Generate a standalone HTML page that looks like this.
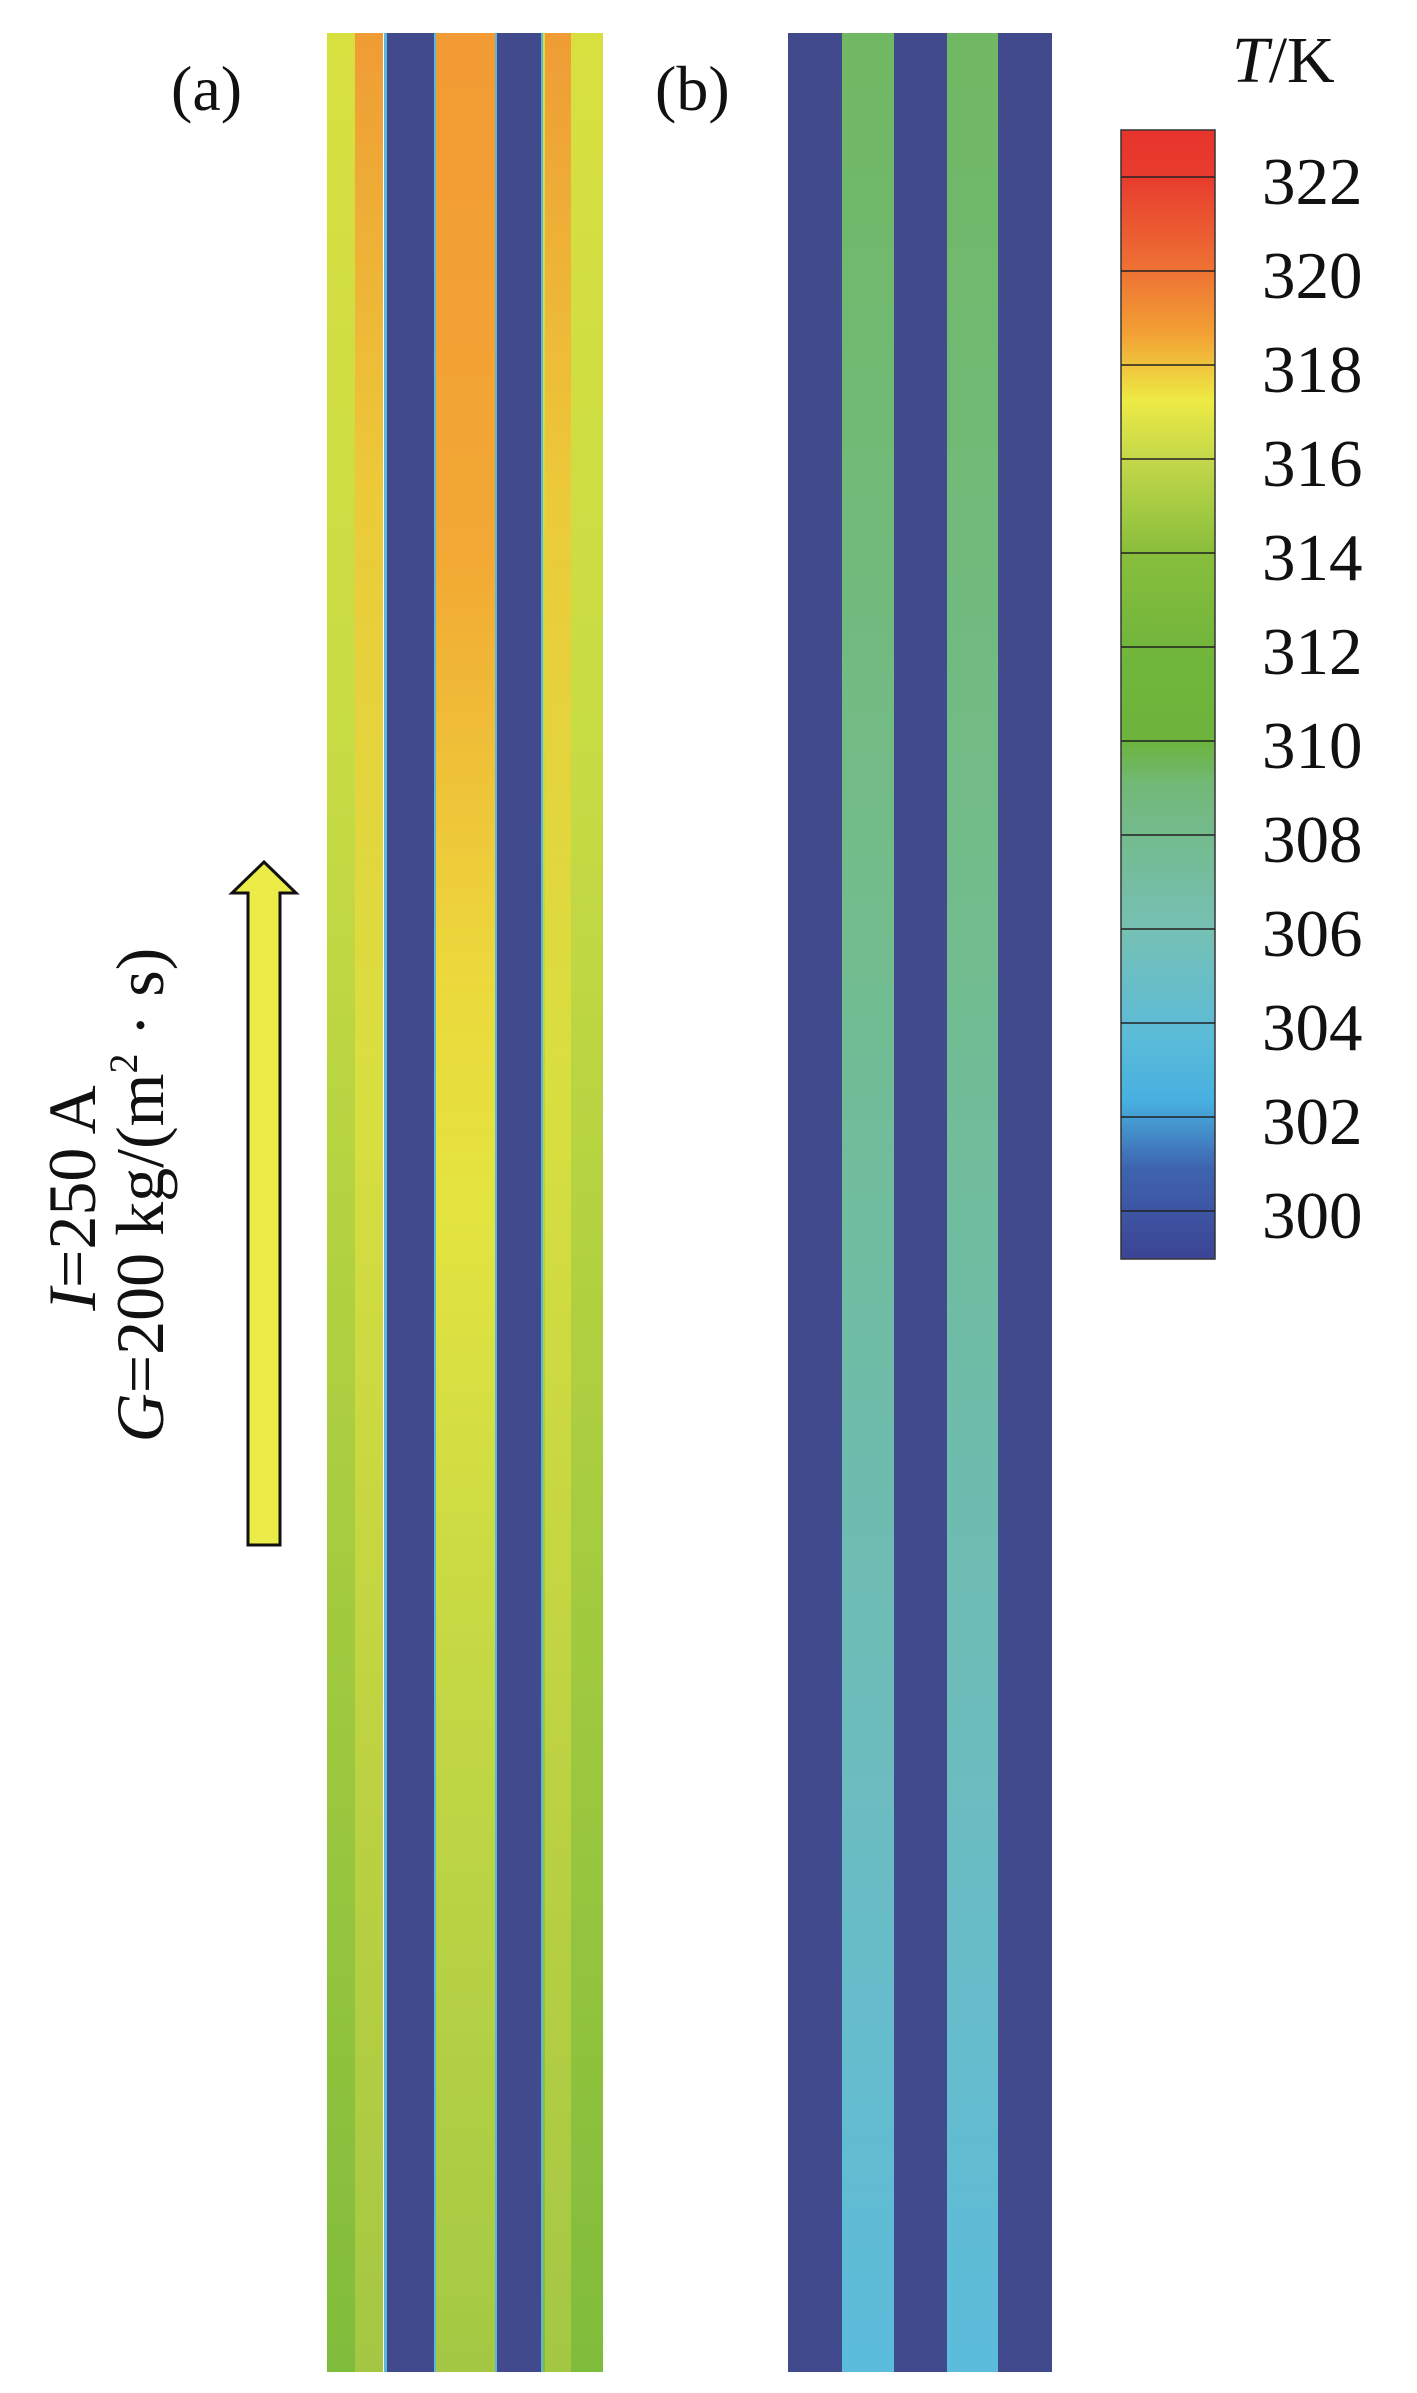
<!DOCTYPE html>
<html><head><meta charset="utf-8"><style>
html,body{margin:0;padding:0;background:#fff;}
svg{display:block;}
text{font-family:"Liberation Serif",serif;fill:#111;}
</style></head><body>
<svg width="1417" height="2393" viewBox="0 0 1417 2393" xmlns="http://www.w3.org/2000/svg">
<defs>
<linearGradient id="cen" x1="0" y1="0" x2="0" y2="1">
<stop offset="0" stop-color="#f29a34"/><stop offset="0.22" stop-color="#f2a834"/><stop offset="0.4" stop-color="#ecd83c"/><stop offset="0.5" stop-color="#e4e440"/><stop offset="0.7" stop-color="#c4d844"/><stop offset="1" stop-color="#a4c844"/>
</linearGradient>
<linearGradient id="out" x1="0" y1="0" x2="0" y2="1">
<stop offset="0" stop-color="#d8e040"/><stop offset="0.3" stop-color="#c8dc44"/><stop offset="0.55" stop-color="#b0d040"/><stop offset="1" stop-color="#80bc3c"/>
</linearGradient>
<linearGradient id="inL" x1="0" y1="0" x2="0" y2="1">
<stop offset="0" stop-color="#f29434"/><stop offset="0.2" stop-color="#f0c838"/><stop offset="0.45" stop-color="#dce040"/><stop offset="1" stop-color="#a8c844"/>
</linearGradient>
<linearGradient id="bg" x1="0" y1="0" x2="0" y2="1">
<stop offset="0" stop-color="#70b862"/><stop offset="0.4" stop-color="#72bc90"/><stop offset="0.75" stop-color="#6cbcc0"/><stop offset="1" stop-color="#5cbcdc"/>
</linearGradient>
<linearGradient id="cb" x1="0" y1="0" x2="0" y2="1">
<stop offset="0" stop-color="#e8342c"/><stop offset="0.042" stop-color="#e83c2e"/><stop offset="0.125" stop-color="#ee7234"/><stop offset="0.18" stop-color="#f2a034"/><stop offset="0.239" stop-color="#eeea44"/><stop offset="0.291" stop-color="#c4d84a"/><stop offset="0.375" stop-color="#88be3c"/><stop offset="0.458" stop-color="#72b63c"/><stop offset="0.54" stop-color="#6cb43c"/><stop offset="0.58" stop-color="#72b878"/><stop offset="0.708" stop-color="#76c0b4"/><stop offset="0.8" stop-color="#5cbcd8"/><stop offset="0.86" stop-color="#48b0e0"/><stop offset="0.92" stop-color="#3e64b0"/><stop offset="1" stop-color="#3c4494"/>
</linearGradient>
</defs>
<!-- panel a -->
<rect x="327" y="33" width="56" height="2339" fill="url(#out)"/>
<rect x="355" y="33" width="28" height="2339" fill="url(#inL)" opacity="0.9"/>
<rect x="541" y="33" width="62" height="2339" fill="url(#out)"/>
<rect x="545" y="33" width="26" height="2339" fill="url(#inL)" opacity="0.9"/>
<rect x="433" y="33" width="64" height="2339" fill="url(#cen)"/>
<rect x="387" y="33" width="47" height="2339" fill="#424a8e"/>
<rect x="497" y="33" width="44" height="2339" fill="#424a8e"/>
<rect x="384" y="33" width="3" height="2339" fill="#5cb8d8"/>
<rect x="434" y="33" width="2" height="2339" fill="#5cb8d8"/>
<rect x="495" y="33" width="2" height="2339" fill="#5cb8d8"/>
<rect x="541" y="33" width="2" height="2339" fill="#5cb8d8"/>
<!-- panel b -->
<rect x="788" y="33" width="264" height="2339" fill="#424a8e"/>
<rect x="842" y="33" width="52" height="2339" fill="url(#bg)"/>
<rect x="947" y="33" width="51" height="2339" fill="url(#bg)"/>
<!-- labels -->
<text x="171" y="110" font-size="64">(a)</text>
<text x="655" y="110" font-size="64">(b)</text>
<!-- arrow -->
<polygon points="264,862 296,893 280,893 280,1545 248,1545 248,893 232,893" fill="#ecec48" stroke="#111" stroke-width="3"/>
<text transform="translate(95,1198) rotate(-90)" font-size="68" text-anchor="middle"><tspan font-style="italic">I</tspan>=250 A</text>
<text transform="translate(163,1195) rotate(-90)" font-size="68" text-anchor="middle"><tspan font-style="italic">G</tspan>=200 kg/(m<tspan font-size="40" dy="-26">2</tspan><tspan dy="26"> · s)</tspan></text>
<!-- colorbar -->
<rect x="1121" y="130" width="94" height="1129" fill="url(#cb)" stroke="#333" stroke-width="1.5"/>
<g stroke="#222" stroke-width="1.5">
<line x1="1121" y1="177" x2="1215" y2="177"/><line x1="1121" y1="271" x2="1215" y2="271"/><line x1="1121" y1="365" x2="1215" y2="365"/><line x1="1121" y1="459" x2="1215" y2="459"/><line x1="1121" y1="553" x2="1215" y2="553"/><line x1="1121" y1="647" x2="1215" y2="647"/><line x1="1121" y1="741" x2="1215" y2="741"/><line x1="1121" y1="835" x2="1215" y2="835"/><line x1="1121" y1="929" x2="1215" y2="929"/><line x1="1121" y1="1023" x2="1215" y2="1023"/><line x1="1121" y1="1117" x2="1215" y2="1117"/><line x1="1121" y1="1211" x2="1215" y2="1211"/>
</g>
<text x="1232" y="82" font-size="66"><tspan font-style="italic">T</tspan>/K</text>
<g font-size="67">
<text x="1262" y="204">322</text><text x="1262" y="298">320</text><text x="1262" y="392">318</text><text x="1262" y="486">316</text><text x="1262" y="580">314</text><text x="1262" y="674">312</text><text x="1262" y="768">310</text><text x="1262" y="862">308</text><text x="1262" y="956">306</text><text x="1262" y="1050">304</text><text x="1262" y="1144">302</text><text x="1262" y="1238">300</text>
</g>
</svg>
</body></html>
